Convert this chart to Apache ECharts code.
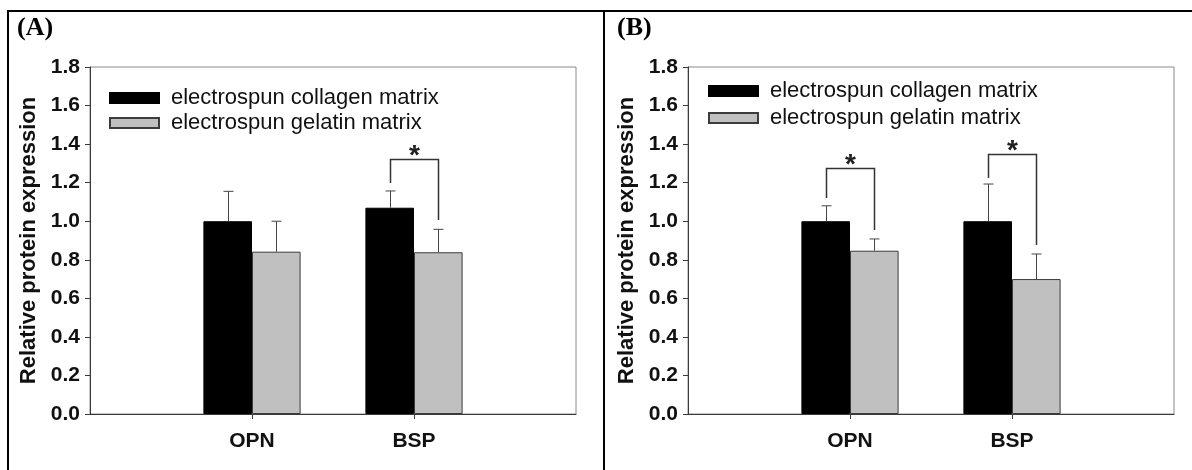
<!DOCTYPE html>
<html>
<head>
<meta charset="utf-8">
<script src="https://cdn.jsdelivr.net/npm/echarts@6/dist/echarts.min.js"></script>
<style>
  html, body { margin: 0; padding: 0; background: #fff; }
  #chart { width: 1192px; height: 470px; }
</style>
</head>
<body>
<div id="chart"></div>
<script>
// categories (empty ends give the axis its padding on both sides)
const categories = ['', 'OPN', 'BSP', ''];
const seriesNames = ['electrospun collagen matrix', 'electrospun gelatin matrix'];
const panelTitles = ['(A)', '(B)'];

// panel A
const collagenA = ['-', 1.0, 1.07, '-'];
const gelatinA = ['-', 0.842, 0.839, '-'];
const collagenErrA = ['-', 0.155, 0.087, '-'];
const gelatinErrA = ['-', 0.158, 0.119, '-'];
// [category index, left end, top, right end]
const bracketsA = [[2, 1.198, 1.323, 1.006]];

// panel B
const collagenB = ['-', 1.0, 1.0, '-'];
const gelatinB = ['-', 0.847, 0.70, '-'];
const collagenErrB = ['-', 0.08, 0.193, '-'];
const gelatinErrB = ['-', 0.061, 0.13, '-'];
const bracketsB = [[1, 1.12, 1.276, 0.954], [2, 1.224, 1.349, 0.877]];

const yMin = 0;
const yMax = 1.8;
const yStep = 0.2;

const FONT = '"Liberation Sans", Arial, sans-serif';
const SERIF = '"Liberation Serif", "Times New Roman", serif';
const AXIS_COLOR = '#3a3a3a';

const errorData = (means, errs, side) => {
  const ret = [];
  means.forEach((m, i) => {
    if (m !== '-') ret.push([i, m, errs[i], side]);
  });
  return ret;
};

const renderError = (params, api) => {
  const bw = api.size([1, 0])[0];
  const base = api.coord([api.value(0), api.value(1)]);
  const top = api.coord([api.value(0), api.value(1) + api.value(2)]);
  const cx = Math.round(base[0] + api.value(3) * 0.15 * bw) + 0.5;
  const style = { stroke: '#444', lineWidth: 1 };
  return {
    type: 'group',
    children: [
      { type: 'line', shape: { x1: cx, y1: base[1], x2: cx, y2: top[1] }, style },
      { type: 'line', shape: { x1: cx - 5, y1: top[1], x2: cx + 5, y2: top[1] }, style },
    ],
  };
};

const renderBracket = (params, api) => {
  const bw = api.size([1, 0])[0];
  const x = api.value(0);
  const c = api.coord([x, api.value(2)]);
  const lx = Math.round(c[0] - 0.15 * bw) + 0.5;
  const rx = Math.round(c[0] + 0.15 * bw) + 0.5;
  const ly = api.coord([x, api.value(1)])[1];
  const ry = api.coord([x, api.value(3)])[1];
  const ty = Math.round(c[1]) + 0.5;
  return {
    type: 'group',
    children: [
      {
        type: 'polyline',
        shape: { points: [[lx, ly], [lx, ty], [rx, ty], [rx, ry]] },
        style: { stroke: '#333', lineWidth: 1.5, fill: null },
      },
      {
        type: 'text',
        style: {
          x: (lx + rx) / 2,
          y: ty - 3,
          text: '*',
          font: 'bold 28px ' + FONT,
          fill: '#222',
          align: 'center',
          verticalAlign: 'middle',
        },
      },
    ],
  };
};

const grids = [
  { left: 90, right: 616, top: 67, bottom: 56 },
  { left: 688, right: 18, top: 67, bottom: 56 },
];

const xAxes = grids.map((g, i) => ({
  type: 'category',
  gridIndex: i,
  data: categories,
  boundaryGap: false,
  axisLine: { lineStyle: { color: AXIS_COLOR, width: 1 } },
  axisTick: {
    show: true,
    length: 5,
    interval: (idx, v) => v !== '',
    lineStyle: { color: AXIS_COLOR },
  },
  axisLabel: {
    interval: 0,
    margin: 17,
    color: '#111',
    fontFamily: FONT,
    fontWeight: 'bold',
    fontSize: 21,
  },
  splitLine: { show: false },
}));

const yAxes = grids.map((g, i) => ({
  type: 'value',
  gridIndex: i,
  min: yMin,
  max: yMax,
  interval: yStep,
  name: 'Relative protein expression',
  nameLocation: 'middle',
  nameGap: 50,
  nameTextStyle: { color: '#111', fontFamily: FONT, fontWeight: 'bold', fontSize: 22 },
  axisLine: { show: true, lineStyle: { color: AXIS_COLOR, width: 1 } },
  axisTick: { show: true, length: 5, lineStyle: { color: AXIS_COLOR } },
  axisLabel: {
    margin: 10,
    color: '#111',
    fontFamily: FONT,
    fontWeight: 'bold',
    fontSize: 21,
    formatter: (v) => v.toFixed(1),
  },
  splitLine: { show: false },
}));

const panels = [
  { collagen: collagenA, gelatin: gelatinA, cErr: collagenErrA, gErr: gelatinErrA, brackets: bracketsA },
  { collagen: collagenB, gelatin: gelatinB, cErr: collagenErrB, gErr: gelatinErrB, brackets: bracketsB },
];

const series = [];
panels.forEach((p, i) => {
  series.push({
    name: seriesNames[0],
    type: 'bar',
    xAxisIndex: i,
    yAxisIndex: i,
    data: p.collagen,
    barGap: '0%',
    barCategoryGap: '40%',
    itemStyle: { color: '#000', borderColor: '#000', borderWidth: 1 },
  });
  series.push({
    name: seriesNames[1],
    type: 'bar',
    xAxisIndex: i,
    yAxisIndex: i,
    data: p.gelatin,
    barGap: '0%',
    barCategoryGap: '40%',
    itemStyle: { color: '#c0c0c0', borderColor: '#3c3c3c', borderWidth: 1 },
  });
  series.push({
    type: 'custom',
    xAxisIndex: i,
    yAxisIndex: i,
    renderItem: renderError,
    data: errorData(p.collagen, p.cErr, -1).concat(errorData(p.gelatin, p.gErr, 1)),
    z: 3,
    silent: true,
  });
  series.push({
    type: 'custom',
    xAxisIndex: i,
    yAxisIndex: i,
    renderItem: renderBracket,
    data: p.brackets,
    z: 3,
    silent: true,
  });
});

const legendBase = {
  orient: 'vertical',
  data: seriesNames,
  icon: 'rect',
  itemWidth: 49,
  itemHeight: 10,
  itemGap: 3,
  selectedMode: false,
  textStyle: { color: '#111', fontFamily: FONT, fontSize: 22, padding: [0, 0, 0, 7] },
  padding: 0,
};

const titleStyle = { fontFamily: SERIF, fontWeight: 'bold', fontSize: 26, color: '#000' };

const chart = echarts.init(document.getElementById('chart'), null, { renderer: 'canvas' });
chart.setOption({
  animation: false,
  backgroundColor: '#fff',
  grid: grids.map((g) => ({ ...g, show: true, borderColor: '#8a8a8a', borderWidth: 1, backgroundColor: 'transparent' })),
  xAxis: xAxes,
  yAxis: yAxes,
  legend: [
    { ...legendBase, left: 109, top: 87 },
    { ...legendBase, left: 708, top: 80, itemGap: 5 },
  ],
  title: [
    { text: panelTitles[0], left: 17, top: 15, padding: 0, textStyle: titleStyle },
    { text: panelTitles[1], left: 617, top: 15, padding: 0, textStyle: titleStyle },
  ],
  graphic: [
    { type: 'line', shape: { x1: 7, y1: 11, x2: 1192, y2: 11 }, style: { stroke: '#000', lineWidth: 2 } },
    { type: 'line', shape: { x1: 8, y1: 10, x2: 8, y2: 470 }, style: { stroke: '#000', lineWidth: 2 } },
    { type: 'line', shape: { x1: 604, y1: 10, x2: 604, y2: 470 }, style: { stroke: '#000', lineWidth: 2 } },
  ],
  series,
});
</script>
</body>
</html>
